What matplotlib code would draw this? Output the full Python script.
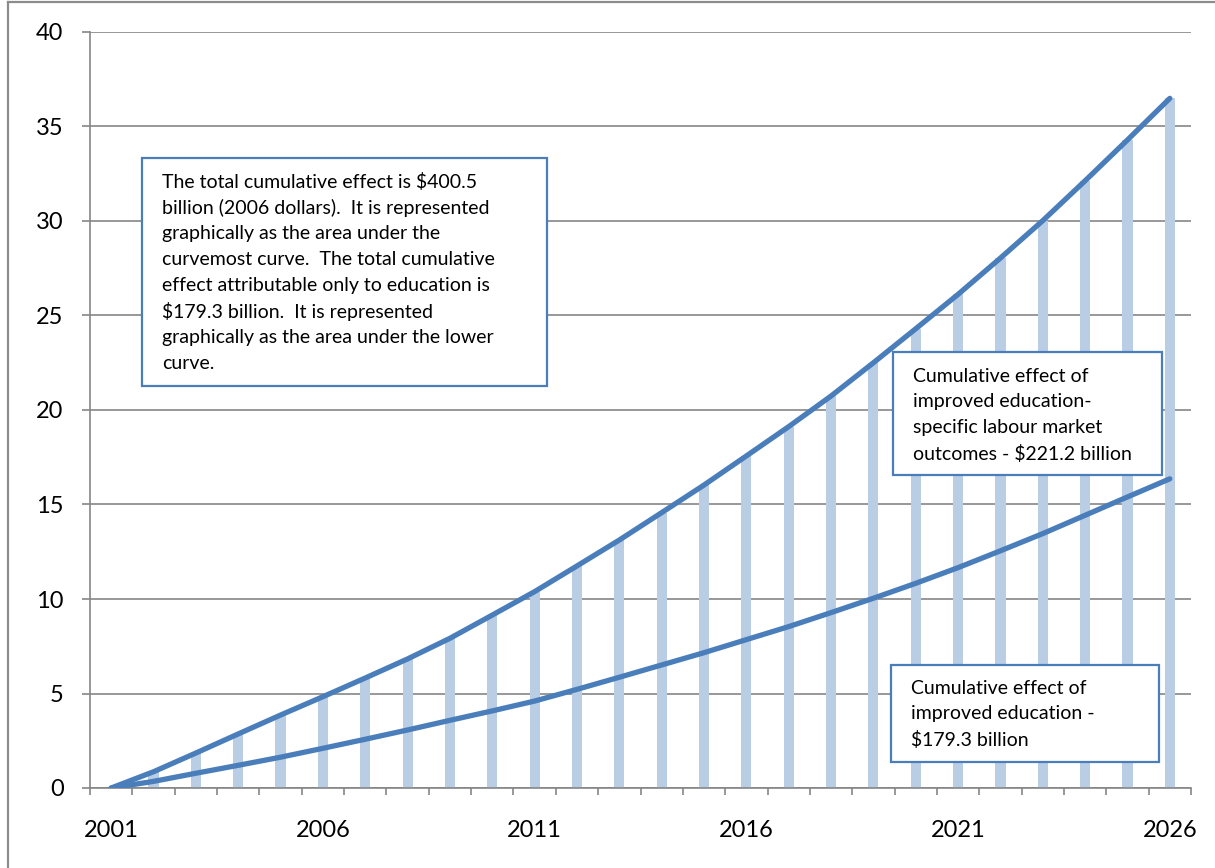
import matplotlib
matplotlib.use("Agg")
import matplotlib.pyplot as plt
from matplotlib.patches import Rectangle
from matplotlib.lines import Line2D

years = list(range(2001, 2027))
total_effect = [0.0, 0.86, 1.85, 2.86, 3.86, 4.83, 5.82, 6.83, 7.92, 9.15,
                10.39, 11.75, 13.12, 14.57, 16.03, 17.57, 19.12, 20.74, 22.5,
                24.3, 26.12, 28.04, 30.02, 32.13, 34.29, 36.49]
education_effect = [0.0, 0.35, 0.78, 1.2, 1.63, 2.1, 2.58, 3.07, 3.58, 4.08,
                    4.6, 5.22, 5.86, 6.51, 7.16, 7.85, 8.54, 9.28, 10.04,
                    10.83, 11.66, 12.55, 13.46, 14.43, 15.4, 16.36]
xtick_labels = ["2001", "2006", "2011", "2016", "2021", "2026"]
yticks = [0, 5, 10, 15, 20, 25, 30, 35, 40]

box1_lines = ["The total cumulative effect is $400.5",
              "billion (2006 dollars).  It is represented",
              "graphically as the area under the",
              "curvemost curve.  The total cumulative",
              "effect attributable only to education is",
              "$179.3 billion.  It is represented",
              "graphically as the area under the lower",
              "curve."]
box2_lines = ["Cumulative effect of",
              "improved education-",
              "specific labour market",
              "outcomes - $221.2 billion"]
box3_lines = ["Cumulative effect of",
              "improved education -",
              "$179.3 billion"]

W, H = 1215, 868
plt.rcParams['font.family'] = ['Lato', 'DejaVu Sans']
fig = plt.figure(figsize=(W / 100, H / 100), dpi=100)

def fx(x):
    return x / W

def fy(y):
    return 1 - y / H

ax = fig.add_axes([fx(90), fy(788), fx(1191) - fx(90), fy(32) - fy(788)])

gray = "#868686"
line_c = "#4A7EBB"
bar_c = "#B9CDE5"

xs = list(range(len(years)))
ax.bar(xs, total_effect, width=0.24, color=bar_c, zorder=2)
ax.plot(xs, total_effect, color=line_c, lw=3.8, solid_capstyle='round',
        solid_joinstyle='round', zorder=3)
ax.plot(xs, education_effect, color=line_c, lw=3.8, solid_capstyle='round',
        solid_joinstyle='round', zorder=3)

ax.set_xlim(-0.5, len(years) - 0.5)
ax.set_ylim(0, 40)
ax.set_yticks(yticks)
ax.set_yticklabels([str(v) for v in yticks])
ax.yaxis.grid(True, color=gray, lw=1.2, zorder=0)
ax.set_axisbelow(True)

# category ticks at boundaries, labels at centers
ax.set_xticks([i - 0.5 for i in range(len(years) + 1)])
ax.set_xticklabels([])
ax.set_xticks([years.index(int(l)) for l in xtick_labels], minor=True)
ax.set_xticklabels(xtick_labels, minor=True)
ax.tick_params(axis='x', which='major', length=5, width=1.2, color=gray, direction='out')
ax.tick_params(axis='x', which='minor', length=0, pad=23, labelsize=17)
ax.tick_params(axis='y', length=6, width=1.2, color=gray, direction='out', pad=13, labelsize=17)

for s in ['top', 'right']:
    ax.spines[s].set_visible(False)
for s in ['left', 'bottom']:
    ax.spines[s].set_color(gray)
    ax.spines[s].set_linewidth(1.2)

# figure border (top and left visible)
fig.add_artist(Line2D([fx(8), fx(8)], [fy(2), fy(870)], color="#8c8c8c", lw=1.6))
fig.add_artist(Line2D([fx(8), fx(1216)], [fy(2), fy(2)], color="#8c8c8c", lw=1.6))

def box(x0, y0, x1, y1, lines, tx, ty0, dy):
    fig.add_artist(Rectangle((fx(x0), fy(y1)), fx(x1) - fx(x0), fy(y0) - fy(y1),
                             transform=fig.transFigure, facecolor='white',
                             edgecolor=line_c, lw=1.6, zorder=5))
    for i, t in enumerate(lines):
        fig.text(fx(tx), fy(ty0 + i * dy), t, ha='left', va='center',
                 fontsize=14, color='black', zorder=6)

box(142, 158, 547, 386, box1_lines, 162, 182, 25.9)
box(893, 352, 1162, 475, box2_lines, 913, 376, 25.9)
box(891, 665, 1159, 762, box3_lines, 911, 688, 26)

fig.savefig("out.png", dpi=100)
